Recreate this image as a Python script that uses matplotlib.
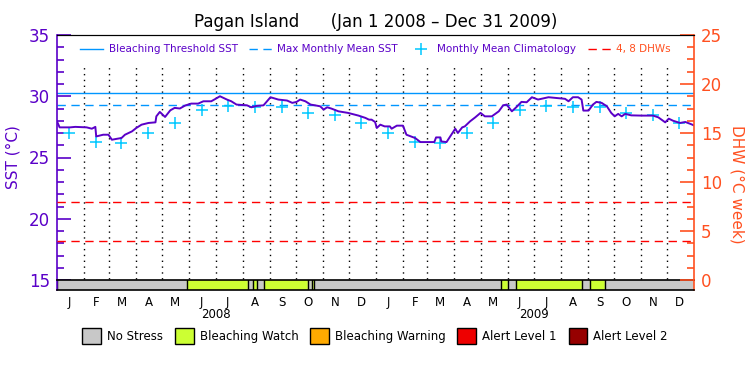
import matplotlib
matplotlib.use("Agg")
import matplotlib.pyplot as plt
from matplotlib.lines import Line2D
from matplotlib.patches import Patch
import numpy as np
import pandas as pd

# ---------------- data ----------------
sst_days = [0, 3, 15, 21, 34, 40, 44, 45, 53, 59, 63, 69, 74, 78, 86, 91, 97, 105, 113, 114,
            118, 124, 130, 135, 141, 147, 154, 162, 168, 177, 182, 187, 195, 200, 206, 218,
            223, 229, 237, 245, 254, 264, 270, 275, 279, 285, 291, 296, 302, 306, 310, 315,
            323, 334, 346, 354, 358, 361, 365, 367, 371, 376, 382, 384, 390, 397, 401, 411,
            417, 433, 435, 440, 441, 447, 457, 460, 465, 468, 474, 480, 486, 491, 499, 507,
            512, 516, 522, 527, 533, 539, 545, 552, 564, 583, 587, 592, 598, 602, 604, 610,
            615, 619, 625, 631, 636, 640, 644, 648, 652, 659, 671, 684, 690, 698, 702, 707,
            715, 721, 727, 731]
sst_vals = [27.95, 27.46, 27.46, 27.5, 27.46, 27.35, 27.5, 26.72, 26.86, 26.86, 26.45, 26.53,
            26.59, 26.86, 27.13, 27.41, 27.68, 27.82, 27.87, 28.36, 28.72, 28.31, 28.85, 29.05,
            29.0, 29.24, 29.4, 29.4, 29.59, 29.59, 29.79, 30.0, 29.73, 29.59, 29.32, 29.26,
            29.1, 29.21, 29.26, 29.92, 29.73, 29.65, 29.46, 29.54, 29.73, 29.59, 29.32, 29.26,
            29.18, 28.91, 29.1, 28.99, 28.77, 28.64, 28.42, 28.23, 28.09, 28.09, 27.9, 27.41,
            27.68, 27.54, 27.54, 27.35, 27.6, 27.6, 26.86, 26.59, 26.26, 26.26, 26.64, 26.64,
            26.31, 26.26, 27.35, 27.0, 27.46, 27.54, 27.95, 28.28, 28.64, 28.36, 28.36, 28.77,
            29.26, 29.32, 28.77, 29.1, 29.54, 29.51, 29.92, 29.73, 29.92, 29.79, 29.59, 29.92,
            29.92, 29.73, 28.83, 28.83, 29.32, 29.54, 29.46, 29.18, 28.64, 28.36, 28.56, 28.36,
            28.56, 28.44, 28.42, 28.42, 28.28, 27.87, 28.17, 28.0, 27.82, 27.9, 27.74, 27.62]

clim_months = ["J", "F", "M", "A", "M", "J", "J", "A", "S", "O", "N", "D"]
clim_vals = [27.0, 26.3, 26.15, 27.0, 27.8, 28.9, 29.2, 29.15, 29.15, 28.6, 28.45, 27.8]

mmm = 29.3
threshold = 30.3
dhw_levels = [4, 8]

stress_start = [0, 149, 219, 225, 230, 237, 288, 293, 295, 510, 517, 527, 602, 612, 629]
stress_end = [149, 219, 225, 230, 237, 288, 293, 295, 510, 517, 527, 602, 612, 629, 731]
stress_cat = [0, 1, 0, 1, 0, 1, 0, 1, 0, 1, 0, 1, 0, 1, 0]

stress_names = ["No Stress", "Bleaching Watch", "Bleaching Warning", "Alert Level 1", "Alert Level 2"]
stress_colors = ["#c8c8c8", "#ccff33", "#ffaa00", "#ee0000", "#960000"]

years = ["2008", "2009"]
title = "Pagan Island      (Jan 1 2008 \u2013 Dec 31 2009)"

# ---------------- styling ----------------
PURPLE = "#5a00c8"
ORANGE = "#ff5020"
CYAN = "#00c8ff"
BLUE = "#0096ff"
RED = "#ff0000"

plt.rcParams['font.family'] = ['DejaVu Sans']

W, H = 750, 375
fig = plt.figure(figsize=(7.5, 3.75), dpi=100)

L, R = 57, 694
T, B = 35, 280
BB = 290
ax = fig.add_axes([L / W, 1 - B / H, (R - L) / W, (B - T) / H])
axb = fig.add_axes([L / W, 1 - BB / H, (R - L) / W, (BB - B) / H])

start = pd.Timestamp("2008-01-01")
ndays = (pd.Timestamp("2010-01-01") - start).days
month_starts = [(d - start).days for d in pd.date_range("2008-01-01", "2010-01-01", freq="MS")]
month_mids = [(d - start).days + 14 for d in pd.date_range("2008-01-01", "2009-12-01", freq="MS")]

ax.set_xlim(0, ndays)
ax.set_ylim(15, 35)

# month dotted lines
for m in month_starts[1:-1]:
    ax.plot([m, m], [15.1, 32.6], color="black", linestyle=(0, (1, 3.2)), lw=1.0, zorder=1)

ax.axhline(threshold, color=BLUE, lw=1.0, zorder=2)
ax.axhline(mmm, color=BLUE, lw=1.0, ls=(0, (6, 4)), zorder=2)

ax2 = ax.twinx()
ax2.set_ylim(0, 25)
for lv in dhw_levels:
    ax2.axhline(lv, color=RED, lw=1.0, ls=(0, (6, 4)), zorder=2)

clim_x = month_mids
clim_y = clim_vals * 2
ax.plot(clim_x, clim_y, linestyle="none", marker="+", ms=9, mew=1.1, color=CYAN, zorder=3)
ax.plot(sst_days, sst_vals, color=PURPLE, lw=1.4, zorder=4)

# axes styling
for a in (ax, ax2):
    a.spines["bottom"].set_visible(False)
    a.spines["top"].set_color("black")
ax.spines["left"].set_color(PURPLE)
ax.spines["left"].set_linewidth(1.2)
ax.spines["right"].set_visible(False)
ax2.spines["left"].set_visible(False)
ax2.spines["right"].set_color(ORANGE)
ax2.spines["right"].set_linewidth(1.2)
ax.set_xticks([])
ax.set_yticks([15, 20, 25, 30, 35])
ax.set_yticks(np.arange(15, 35.01, 1), minor=True)
ax.tick_params(axis="y", which="major", direction="in", length=10, width=1.2, color=PURPLE,
               labelcolor=PURPLE, labelsize=12, pad=5)
ax.tick_params(axis="y", which="minor", direction="in", length=5, width=1.2, color=PURPLE)
ax2.set_yticks([0, 5, 10, 15, 20, 25])
ax2.set_yticks(np.arange(0, 25.01, 1.25), minor=True)
ax2.tick_params(axis="y", which="major", direction="in", length=10, width=1.2, color=ORANGE,
                labelcolor=ORANGE, labelsize=12, pad=5)
ax2.tick_params(axis="y", which="minor", direction="in", length=5, width=1.2, color=ORANGE)

ax.set_ylabel("SST (\u00b0C)", color=PURPLE, fontsize=11, labelpad=6)
fig.text(737 / W, 1 - 184 / H, "DHW (\u00b0C week)", color=ORANGE, fontsize=11, rotation=270,
         ha="center", va="center")

fig.text(0.5 * (L + R) / W, 1 - 22 / H, title, ha="center", va="center", fontsize=12)

# top legend
handles = [Line2D([], [], color=BLUE, lw=1.0),
           Line2D([], [], color=BLUE, lw=1.0, ls=(0, (6, 4))),
           Line2D([], [], color=CYAN, lw=0, marker="+", ms=8, mew=1.1),
           Line2D([], [], color=RED, lw=1.0, ls=(0, (6, 4)))]
labels = ["Bleaching Threshold SST", "Max Monthly Mean SST", "Monthly Mean Climatology", "4, 8 DHWs"]
leg = ax.legend(handles, labels, loc="upper center", bbox_to_anchor=(0.5, 1.0), ncol=4,
                frameon=False, fontsize=7.5, handlelength=2.2, handletextpad=0.5,
                columnspacing=1.1, borderaxespad=0.5)
for t, c in zip(leg.get_texts(), [PURPLE, PURPLE, PURPLE, ORANGE]):
    t.set_color(c)

# stress bar
axb.set_xlim(0, ndays)
axb.set_ylim(0, 1)
for s, e, c in zip(stress_start, stress_end, stress_cat):
    axb.axvspan(s, e, color=stress_colors[c], zorder=1)
    axb.axvline(s, color="black", lw=1.0, zorder=2)
for sp in axb.spines.values():
    sp.set_color("black")
    sp.set_linewidth(1.2)
axb.spines["left"].set_color(PURPLE)
axb.spines["right"].set_color(ORANGE)
axb.set_yticks([])
axb.set_xticks(month_mids)
axb.set_xticklabels(clim_months * 2, fontsize=8.5)
axb.tick_params(axis="x", length=0, pad=4)
year_mid = [(pd.Timestamp(f"{y}-07-01") - start).days for y in years]
for x, y in zip(year_mid, years):
    axb.annotate(y, xy=(x, 0), xycoords=("data", "axes fraction"), xytext=(0, -18),
                 textcoords="offset points", ha="center", va="center", fontsize=8.5)

# bottom legend
phandles = [Patch(facecolor=c, edgecolor="black", lw=1.0) for c in stress_colors]
fig.legend(phandles, stress_names, loc="center", bbox_to_anchor=(0.5, 1 - 336 / H), ncol=5,
           frameon=False, fontsize=8.5, handlelength=1.6, handleheight=1.6,
           handletextpad=0.5, columnspacing=1.0)

fig.savefig("out.png", dpi=100)
